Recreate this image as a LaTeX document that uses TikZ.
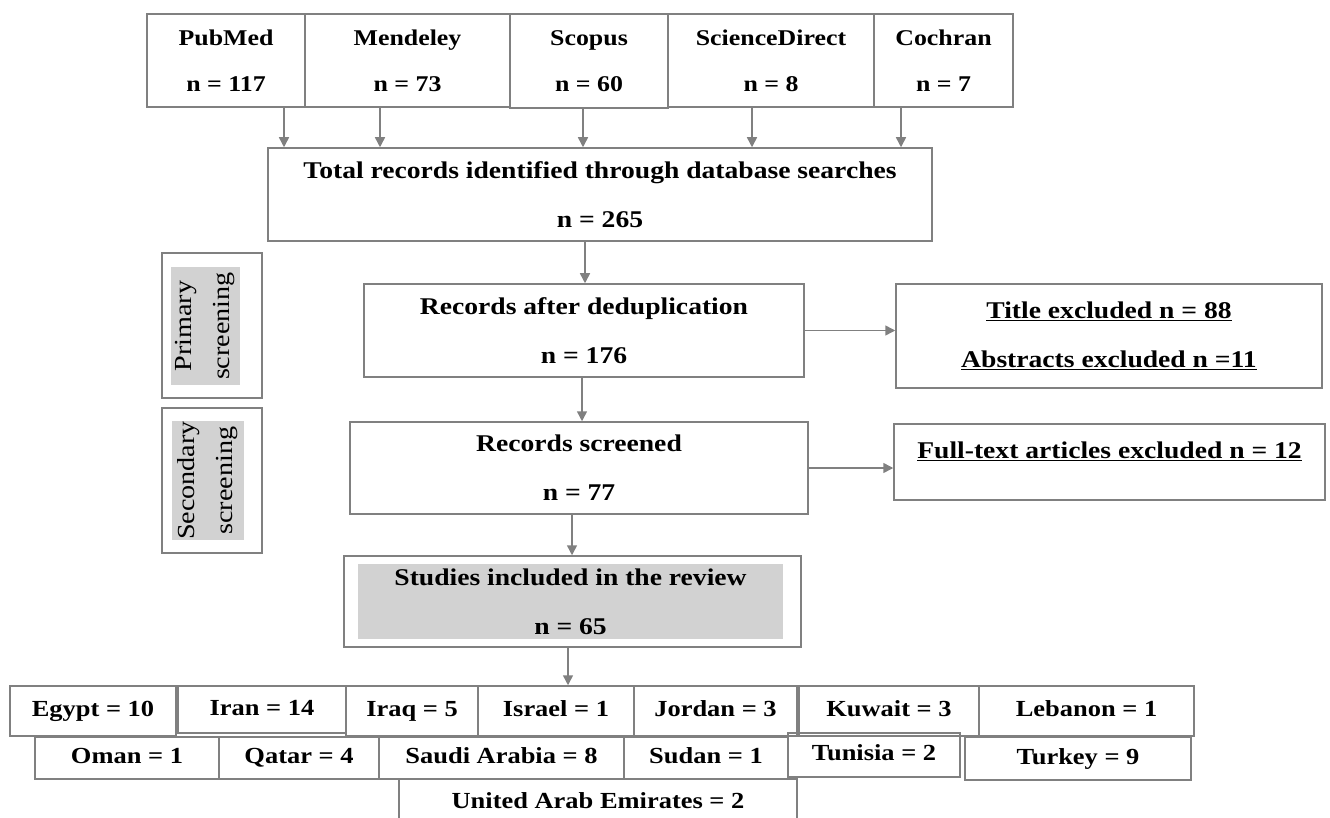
\documentclass[tikz,border=0pt]{standalone}
\usepackage{fontspec}
\setmainfont{Liberation Serif}[FakeStretch=1.15]
\usetikzlibrary{arrows.meta}

\definecolor{linegray}{RGB}{128,128,128}
\definecolor{fillgray}{RGB}{210,210,210}

\begin{document}
\begin{tikzpicture}[x=1pt, y=-1pt, >={Triangle[length=10pt,width=10pt]},
    stage/.style={draw=linegray, line width=1.5pt, inner sep=0pt, align=center, font=\bfseries\fontsize{24}{49}\selectfont},
    source/.style={stage, minimum height=93pt, font=\bfseries\fontsize{22.5}{46}\selectfont},
    country/.style={draw=linegray, line width=1.5pt, inner sep=0pt, text height=16pt, text depth=5pt, font=\bfseries\fontsize{23}{26}\selectfont},
    sidelabel/.style={fill=fillgray, inner sep=0pt, rotate=90, align=center, font=\fontsize{24.5}{38}\selectfont},
    frame/.style={draw=linegray, line width=1.5pt, inner sep=0pt},
    arr/.style={->, draw=linegray, line width=1.5pt}]
    \useasboundingbox (0,0) rectangle (1330,818);

    % Databases
    \node[source, minimum width=158pt] (pubmed) at (226,60.5) {PubMed\\n = 117};
    \node[source, minimum width=205pt] (mendeley) at (407.5,60.5) {Mendeley\\n = 73};
    \node[source, minimum width=158pt, minimum height=94pt] (scopus) at (589,61) {Scopus\\n = 60};
    \node[source, minimum width=206pt] (sciencedirect) at (771,60.5) {ScienceDirect\\n = 8};
    \node[source, minimum width=139pt] (cochran) at (943.5,60.5) {Cochran\\n = 7};

    % Main flow
    \node[stage, minimum width=664pt, minimum height=93pt] (total) at (600,194.5) {Total records identified through database searches\\n = 265};
    \node[stage, minimum width=440pt, minimum height=93pt] (dedup) at (584,330.5) {Records after deduplication\\n = 176};
    \node[stage, minimum width=458pt, minimum height=92pt] (screened) at (579,468) {Records screened\\n = 77};
    \node[frame, minimum width=457pt, minimum height=91pt] (includedframe) at (572.5,601.5) {};
    \node[stage, draw=none, fill=fillgray, minimum width=425pt, minimum height=75pt] (included) at (570.5,601.5) {Studies included in the review\\n = 65};

    % Exclusions
    \node[stage, minimum width=426pt, minimum height=104pt] (titleexcl) at (1109,336) {\underline{Title excluded n = 88}\\\underline{Abstracts excluded n =11}};
    \node[stage, minimum width=431pt, minimum height=76pt, text depth=24pt] (fulltext) at (1109.5,462) {\underline{Full-text articles excluded n = 12}};

    % Screening phases
    \node[frame, minimum width=100pt, minimum height=145pt] (primaryframe) at (212,325.5) {};
    \node[sidelabel, minimum width=118pt, minimum height=69pt] (primary) at (205.5,326) {Primary\\screening};
    \node[frame, minimum width=100pt, minimum height=145pt] (secondaryframe) at (212,480.5) {};
    \node[sidelabel, minimum width=117pt, minimum height=72pt] (secondary) at (208,480.5) {Secondary\\screening};

    % Countries
    \node[country, minimum width=166pt, minimum height=50pt] (egypt) at (93,711) {Egypt = 10};
    \node[country, minimum width=168pt, minimum height=47pt] (iran) at (262,709.5) {Iran = 14};
    \node[country, minimum width=132pt, minimum height=50pt] (iraq) at (412,711) {Iraq = 5};
    \node[country, minimum width=156pt, minimum height=50pt] (israel) at (556,711) {Israel = 1};
    \node[country, minimum width=163pt, minimum height=50pt] (jordan) at (715.5,711) {Jordan = 3};
    \node[country, minimum width=180pt, minimum height=50pt] (kuwait) at (889,711) {Kuwait = 3};
    \node[country, minimum width=215pt, minimum height=50pt] (lebanon) at (1086.5,711) {Lebanon = 1};
    \node[country, minimum width=184pt, minimum height=42pt] (oman) at (127,758) {Oman = 1};
    \node[country, minimum width=160pt, minimum height=42pt] (qatar) at (299,758) {Qatar = 4};
    \node[country, minimum width=245pt, minimum height=42pt] (saudi) at (501.5,758) {Saudi Arabia = 8};
    \node[country, minimum width=164pt, minimum height=42pt] (sudan) at (706,758) {Sudan = 1};
    \node[country, minimum width=172pt, minimum height=44pt] (tunisia) at (874,755) {Tunisia = 2};
    \node[country, minimum width=226pt, minimum height=43pt] (turkey) at (1078,758.5) {Turkey = 9};
    \node[country, minimum width=398pt, minimum height=47pt] (uae) at (598,802.5) {United Arab Emirates = 2};

    % Arrows
    \draw[arr] (284,0 |- pubmed.south) -- (284,0 |- total.north);
    \draw[arr] (380,0 |- mendeley.south) -- (380,0 |- total.north);
    \draw[arr] (583,0 |- scopus.south) -- (583,0 |- total.north);
    \draw[arr] (752,0 |- sciencedirect.south) -- (752,0 |- total.north);
    \draw[arr] (901,0 |- cochran.south) -- (901,0 |- total.north);
    \draw[arr] (585,0 |- total.south) -- (585,0 |- dedup.north);
    \draw[arr] (582,0 |- dedup.south) -- (582,0 |- screened.north);
    \draw[arr] (572,0 |- screened.south) -- (572,0 |- includedframe.north);
    \draw[arr] (568,0 |- includedframe.south) -- (568,0 |- israel.north);
    \draw[arr] (dedup.east) -- (dedup.east -| titleexcl.west);
    \draw[arr] (screened.east) -- (screened.east -| fulltext.west);
\end{tikzpicture}
\end{document}
